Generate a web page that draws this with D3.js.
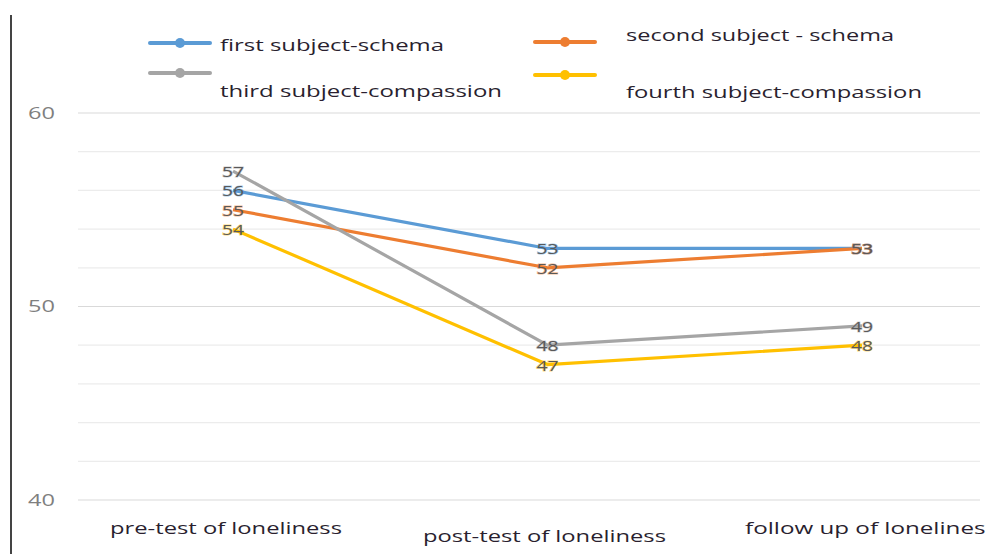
<!DOCTYPE html>
<html><head><meta charset="utf-8">
<script src="https://cdn.jsdelivr.net/npm/d3@7"></script>
<style>body{margin:0;background:#fff;overflow:hidden}svg{display:block}</style>
</head><body>
<svg id="c" width="986" height="554"></svg>
<script>
const categories = ["pre-test of loneliness", "post-test of loneliness", "follow up of loneliness"];
const seriesNames = ["first subject-schema", "second subject - schema", "third subject-compassion", "fourth subject-compassion"];
const first = [56, 53, 53];
const second = [55, 52, 53];
const third = [57, 48, 49];
const fourth = [54, 47, 48];
const yTicks = [40, 50, 60];
const colors = ["#5B9BD5", "#ED7D31", "#A5A5A5", "#FFC000"];
const series = [first, second, third, fourth];

const svg = d3.select("#c");
const font = "'Open Sans', 'Noto Sans', sans-serif";

const y = d3.scaleLinear().domain([40, 60]).range([500, 113]);
const x = d3.scalePoint().domain(categories).range([233, 862]);

// left border line
svg.append("line").attr("x1", 11).attr("x2", 11).attr("y1", 15).attr("y2", 554)
  .attr("stroke", "#444").attr("stroke-width", 2);

// gridlines
const gridVals = d3.range(40, 61, 2);
svg.append("g").selectAll("line").data(gridVals).join("line")
  .attr("x1", 78).attr("x2", 980)
  .attr("y1", d => y(d)).attr("y2", d => y(d))
  .attr("stroke", d => d % 10 === 0 ? "#d9d9d9" : "#ececec").attr("stroke-width", 1.2);

// y axis labels
const yAxis = d3.axisLeft(y).tickValues(yTicks).tickSize(0).tickPadding(0);
const ga = svg.append("g").attr("transform", "translate(55,0)").call(yAxis);
ga.select(".domain").remove();
ga.selectAll("text").attr("font-family", font).attr("font-size", 17).attr("fill", "#7f7f7f")
  .attr("textLength", 27).attr("lengthAdjust", "spacingAndGlyphs");

// x labels
const xLabelY = [534, 542, 534];
const xLabelX = [110, 423, 745];
const xLabelW = [232, 243, 252];
svg.append("g").selectAll("text").data(categories).join("text")
  .attr("x", (d, i) => xLabelX[i]).attr("y", (d, i) => xLabelY[i])
  .attr("font-family", font).attr("font-size", 15.5)
  .attr("textLength", (d, i) => xLabelW[i]).attr("lengthAdjust", "spacingAndGlyphs")
  .attr("fill", "#2a1f2f").text(d => d);

// lines
const line = d3.line().x((d, i) => x(categories[i])).y(d => y(d));
series.forEach((s, k) => {
  svg.append("path").datum(s).attr("d", line).attr("fill", "none")
    .attr("stroke", colors[k]).attr("stroke-width", 3.2).attr("stroke-linejoin", "round");
});

// data labels
series.forEach((s, k) => {
  svg.append("g").selectAll("text").data(s).join("text")
    .attr("x", (d, i) => x(categories[i]) - 11).attr("y", d => y(d) + 6)
    .attr("font-family", font).attr("font-size", 15)
    .attr("textLength", 22).attr("lengthAdjust", "spacingAndGlyphs")
    .attr("fill", "#595959").attr("stroke", colors[k]).attr("stroke-width", 1.2)
    .attr("stroke-opacity", 0.55).attr("paint-order", "stroke")
    .text(d => d);
});

// legend
const legend = [
  {lx: 150, ly: 43, tx: 220, ty: 51, w: 224},
  {lx: 535, ly: 42, tx: 626, ty: 41, w: 268},
  {lx: 150, ly: 73, tx: 220, ty: 97, w: 282},
  {lx: 535, ly: 75, tx: 626, ty: 98, w: 296}
];
legend.forEach((p, k) => {
  const g = svg.append("g");
  g.append("line").attr("x1", p.lx).attr("x2", p.lx + 60).attr("y1", p.ly).attr("y2", p.ly)
    .attr("stroke", colors[k]).attr("stroke-width", 4).attr("stroke-linecap", "round");
  g.append("circle").attr("cx", p.lx + 30).attr("cy", p.ly).attr("r", 5).attr("fill", colors[k]);
  g.append("text").attr("x", p.tx).attr("y", p.ty).attr("font-family", font).attr("font-size", 16)
    .attr("textLength", p.w).attr("lengthAdjust", "spacingAndGlyphs")
    .attr("fill", "#2a1f2f").text(seriesNames[k]);
});
</script>
</body></html>
